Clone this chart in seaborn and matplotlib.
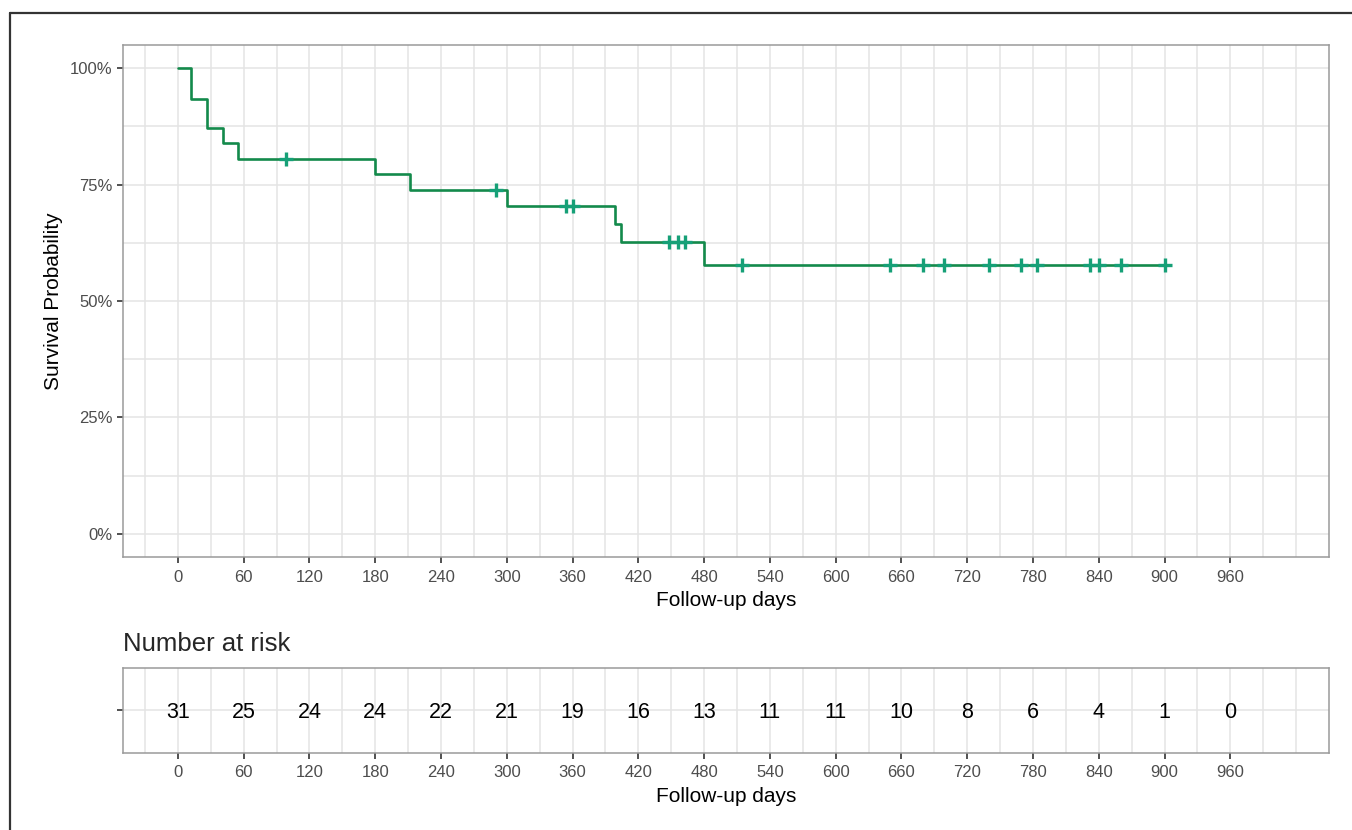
import numpy as np
import pandas as pd
import seaborn as sns
import matplotlib.pyplot as plt
from matplotlib.lines import Line2D
from matplotlib.ticker import PercentFormatter

# Kaplan-Meier steps
step_days = [0, 12, 27, 41, 55, 180, 212, 300, 399, 404, 480]
surv = [1.0, 0.935, 0.871, 0.839, 0.806, 0.773, 0.739, 0.704, 0.665, 0.626, 0.577]
end_day = 900

# censored subjects (the + marks)
censor_days = [99, 290, 354, 360, 448, 456, 463, 515, 650, 680, 699,
               740, 769, 784, 832, 840, 860, 900]

# number at risk table
risk_days = [0, 60, 120, 180, 240, 300, 360, 420, 480, 540, 600, 660, 720, 780, 840, 900, 960]
risk_counts = [31, 25, 24, 24, 22, 21, 19, 16, 13, 11, 11, 10, 8, 6, 4, 1, 0]

line_col = '#138a4b'
mark_col = '#16a077'
grid_col = '#e4e4e4'
frame_col = '#9a9a9a'

sns.set_theme(style='whitegrid')
plt.rcParams['font.family'] = ['Liberation Sans', 'DejaVu Sans']

fig = plt.figure(figsize=(13.52, 8.30), dpi=100)
ax = fig.add_axes([0.091, 0.3289, 0.892, 0.6169])
tab = fig.add_axes([0.091, 0.0928, 0.892, 0.1024])

curve = pd.DataFrame({'day': step_days + [end_day], 'surv': surv + [surv[-1]]})
cens = pd.DataFrame({
    'day': censor_days,
    'surv': [surv[np.searchsorted(step_days, d, side='right') - 1] for d in censor_days],
})

sns.lineplot(data=curve, x='day', y='surv', drawstyle='steps-post', estimator=None,
             color=line_col, linewidth=1.9, ax=ax)
sns.scatterplot(data=cens, x='day', y='surv', marker='+', s=110, color=mark_col,
                linewidth=2.4, ax=ax, zorder=3)

minor_x = [-30] + [d + 30 for d in risk_days] + [1020]

for a in (ax, tab):
    a.set_xlim(-50, 1050)
    a.set_xticks(risk_days)
    a.set_xticks(minor_x, minor=True)
    a.grid(True, which='both', color=grid_col, linewidth=1.1)
    a.set_axisbelow(True)
    a.tick_params(which='major', bottom=True, left=True, length=4, width=1.2,
                  color='#333333', labelsize=12, labelcolor='#4d4d4d', pad=5)
    a.tick_params(which='minor', length=0)
    for s in a.spines.values():
        s.set_color(frame_col)
        s.set_linewidth(1.1)
    a.set_xlabel('Follow-up days', fontsize=15, color='black', labelpad=5)

ax.set_ylim(-0.05, 1.05)
ax.set_yticks([0, 0.25, 0.5, 0.75, 1.0])
ax.set_yticks([0.125, 0.375, 0.625, 0.875], minor=True)
ax.yaxis.set_major_formatter(PercentFormatter(1.0, decimals=0))
ax.tick_params(axis='y', pad=3.5)
ax.set_ylabel('Survival Probability', fontsize=15, color='black', labelpad=5)

tab.set_ylim(0, 1)
tab.set_yticks([0.5])
tab.set_yticklabels([''])
tab.set_ylabel('')
for d, n in zip(risk_days, risk_counts):
    tab.text(d, 0.48, str(n), ha='center', va='center', fontsize=15.5, color='black')

fig.text(123 / 1352, 1 - 644 / 830, 'Number at risk', fontsize=18.5, ha='left', va='center')

# outer frame (left and top edges)
fig.add_artist(Line2D([10 / 1352, 10 / 1352], [0, 1 - 13 / 830], transform=fig.transFigure,
                      color='#333333', linewidth=1.6))
fig.add_artist(Line2D([10 / 1352, 1], [1 - 13 / 830, 1 - 13 / 830], transform=fig.transFigure,
                      color='#333333', linewidth=1.6))

fig.savefig('out.png', dpi=100)
